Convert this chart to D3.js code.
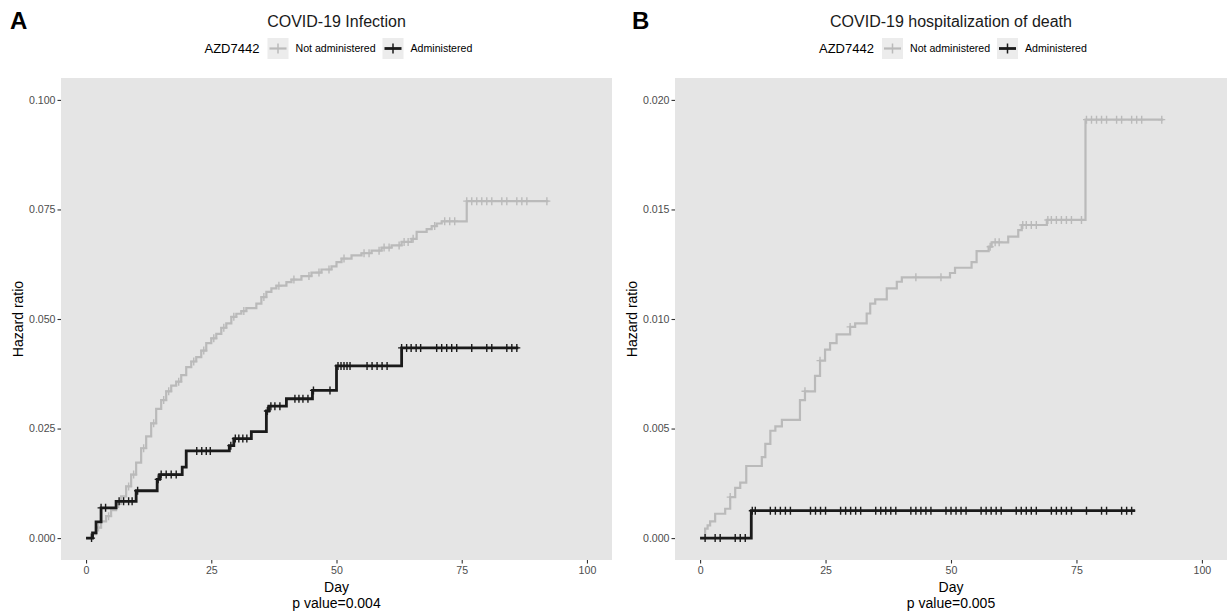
<!DOCTYPE html>
<html>
<head>
<meta charset="utf-8">
<script src="https://cdn.jsdelivr.net/npm/d3@7"></script>
<style>
  html, body { margin: 0; padding: 0; background: #ffffff; }
  svg { display: block; font-family: "Liberation Sans", Arial, sans-serif; }
</style>
</head>
<body>
<svg id="chart" width="1227" height="613"></svg>
<script>
// ---------- DATA ----------
const groupNames = ["Not administered", "Administered"];
const legendTitle = "AZD7442";
const xTicks = [0, 25, 50, 75, 100];

// Panel A: COVID-19 Infection
const infTitle = "COVID-19 Infection";
const infPValue = "p value=0.004";
const infYTicks = [0, 0.025, 0.05, 0.075, 0.1];
const infNotAdmDays = [0, 1, 2, 3, 4, 5, 6, 7, 8, 9, 10, 11, 12, 13, 14, 15, 16, 17, 18, 19, 20, 21, 22, 23, 24, 25, 26, 27, 28, 29, 30, 31, 32, 34, 35, 36, 37, 38, 40, 41, 43, 45, 47, 49, 50, 51, 53, 55, 57, 59, 61, 63, 65, 66, 68, 69, 70, 71, 76];
const infNotAdmVals = [0, 0.0009, 0.0024, 0.0038, 0.0050, 0.0064, 0.0078, 0.0095, 0.0118, 0.0145, 0.0172, 0.0205, 0.0232, 0.0262, 0.0295, 0.0315, 0.0335, 0.0348, 0.0357, 0.0372, 0.0390, 0.0403, 0.0413, 0.0428, 0.0445, 0.0456, 0.0466, 0.0480, 0.0490, 0.0505, 0.0512, 0.0518, 0.0525, 0.0535, 0.0550, 0.0562, 0.0570, 0.0576, 0.0584, 0.0590, 0.0598, 0.0606, 0.0613, 0.0620, 0.0630, 0.0638, 0.0645, 0.0650, 0.0656, 0.0663, 0.0668, 0.0676, 0.0683, 0.0699, 0.0705, 0.0712, 0.0718, 0.0723, 0.0769];
const infNotAdmEnd = 92.3;
const infNotAdmCensor = [2.5, 4.5, 6.5, 8.5, 9.5, 11.5, 13.5, 15.5, 16.5, 18.5, 21.5, 23.5, 25.5, 27.5, 29.5, 31.5, 35.5, 38.5, 41.5, 44.5, 46.5, 48.5, 51.5, 55.5, 56.5, 58.5, 59.5, 60.5, 62.5, 63.5, 64.3, 65.3, 69.6, 71.6, 72.6, 73.6, 76, 77, 78, 79, 80, 81, 83, 84, 86, 87, 88, 92];
const infAdmDays = [0, 1.3, 2, 3, 6, 10, 14.2, 14.7, 19.2, 20, 28.6, 29.5, 33, 36, 36.5, 40, 45.2, 50, 63];
const infAdmVals = [0, 0.0012, 0.0037, 0.0069, 0.0084, 0.0108, 0.0134, 0.0145, 0.0162, 0.0199, 0.0211, 0.0227, 0.0243, 0.0290, 0.0301, 0.0318, 0.0337, 0.0393, 0.0434];
const infAdmEnd = 86.3;
const infAdmCensor = [1.1, 3.0, 3.9, 6.6, 7.5, 8.5, 9.2, 10.3, 14.4, 15.0, 16.0, 17.0, 18.0, 22.1, 23.1, 24.0, 24.8, 28.9, 29.8, 30.5, 31.3, 32.1, 36.2, 36.9, 37.7, 38.7, 41.7, 42.5, 43.3, 44.3, 45.4, 48.7, 50.3, 50.9, 51.5, 52.1, 52.7, 56.1, 57.1, 58.1, 59.1, 60.1, 63.0, 64.0, 64.9, 65.9, 66.8, 70, 71, 72, 73, 74, 77, 80, 81, 84, 85, 86];

// Panel B: COVID-19 hospitalization of death
const hospTitle = "COVID-19 hospitalization of death";
const hospPValue = "p value=0.005";
const hospYTicks = [0, 0.005, 0.01, 0.015, 0.02];
const hospNotAdmDays = [0, 1, 1.5, 2, 3, 5, 6, 7, 8, 9.2, 12.3, 13, 14, 15, 16.3, 19.9, 20.9, 22.9, 23.9, 24.9, 25.9, 27.2, 29.9, 30.9, 33.2, 33.9, 34.9, 37.2, 39.2, 40.2, 49.8, 50.8, 54.1, 55.1, 57.5, 58.1, 61.4, 63.4, 64.1, 69.1, 76.8];
const hospNotAdmVals = [0, 0.00043, 0.00058, 0.00076, 0.00111, 0.00134, 0.00187, 0.00229, 0.00253, 0.00329, 0.0037, 0.0043, 0.0049, 0.0051, 0.0054, 0.0063, 0.0067, 0.0074, 0.0081, 0.0086, 0.0089, 0.0093, 0.00964, 0.0098, 0.01025, 0.0107, 0.0109, 0.0114, 0.0117, 0.0119, 0.0121, 0.01234, 0.0126, 0.0131, 0.0133, 0.0135, 0.01376, 0.01406, 0.01429, 0.01452, 0.0191];
const hospNotAdmEnd = 92.3;
const hospNotAdmCensor = [6, 20.9, 23.9, 29.9, 43, 48, 57.8, 58.8, 59.6, 64.3, 65, 66, 67, 69.3, 70, 71, 72, 73, 74, 76, 77, 78, 79, 80, 81, 83, 84, 86, 87, 88, 92];
const hospAdmDays = [0, 10.2];
const hospAdmVals = [0, 0.00125];
const hospAdmEnd = 86.7;
const hospAdmCensor = [1, 3, 4, 7, 8, 9, 10.4, 11, 14, 15, 16, 17, 18, 22, 23, 24, 25, 28, 29, 30, 31, 32, 35, 36, 37, 38, 39, 42, 43, 44, 45, 46, 49, 50, 51, 52, 53, 56, 57, 58, 59, 60, 63, 64, 65, 66, 67, 70, 71, 72, 73, 74, 77, 80, 81, 84, 85, 86];

// ---------- DRAW ----------
const svg = d3.select("#chart");
const colors = ["#bababa", "#1a1a1a"];
const widths = [2.2, 2.8];

function stepValue(days, vals, t) {
  let v = vals[0];
  for (let i = 0; i < days.length; i++) { if (days[i] <= t) v = vals[i]; }
  return v;
}

function drawPanel(cfg) {
  const g = svg.append("g");
  const x = d3.scaleLinear().domain([-5, 105]).range([cfg.left, cfg.right]);
  const yMax = cfg.yTicks[cfg.yTicks.length - 1];
  const pad = yMax * 0.05;
  const y = d3.scaleLinear().domain([-pad, yMax + pad]).range([560, 78]);

  // panel letter
  g.append("text").attr("x", cfg.letterX).attr("y", 29)
    .attr("font-size", 24).attr("font-weight", "bold").attr("fill", "#000").text(cfg.letter);

  const cx = (cfg.left + cfg.right) / 2;
  // title
  g.append("text").attr("x", cx).attr("y", 27).attr("text-anchor", "middle")
    .attr("font-size", 16).attr("fill", "#1a1a1a").text(cfg.title);

  // legend
  const lg = g.append("g").attr("transform", `translate(${cx},0)`);
  lg.append("text").attr("x", -132).attr("y", 53).attr("font-size", 13).attr("fill", "#000").text(legendTitle);
  const keyX = [-69, 46];
  const labX = [-41, 74];
  [0, 1].forEach(i => {
    lg.append("rect").attr("x", keyX[i]).attr("y", 38).attr("width", 21).attr("height", 21).attr("fill", "#ececec");
    lg.append("line").attr("x1", keyX[i] + 2).attr("x2", keyX[i] + 19).attr("y1", 48.5).attr("y2", 48.5)
      .attr("stroke", colors[i]).attr("stroke-width", widths[i]);
    lg.append("line").attr("x1", keyX[i] + 10.5).attr("x2", keyX[i] + 10.5).attr("y1", 43.5).attr("y2", 53.5)
      .attr("stroke", colors[i]).attr("stroke-width", 1.5);
    lg.append("text").attr("x", labX[i]).attr("y", 52).attr("font-size", 10.6).attr("fill", "#000").text(groupNames[i]);
  });

  // panel background
  g.append("rect").attr("x", cfg.left).attr("y", 78).attr("width", cfg.right - cfg.left).attr("height", 482).attr("fill", "#e5e5e5");

  // axes
  const ya = g.append("g").attr("transform", `translate(${cfg.left},0)`)
    .call(d3.axisLeft(y).tickValues(cfg.yTicks).tickFormat(d3.format(".3f")).tickSize(3.5).tickPadding(2));
  const xa = g.append("g").attr("transform", `translate(0,560)`)
    .call(d3.axisBottom(x).tickValues(xTicks).tickFormat(d3.format("d")).tickSize(3.5).tickPadding(3));
  [ya, xa].forEach(a => {
    a.select(".domain").remove();
    a.selectAll(".tick line").attr("stroke", "#333").attr("stroke-width", 1.1);
    a.selectAll(".tick text").attr("fill", "#4d4d4d").attr("font-size", 10.6).attr("font-family", "Liberation Sans, Arial, sans-serif");
  });

  // axis titles
  g.append("text").attr("transform", `translate(${cfg.left - 38},${(78 + 560) / 2}) rotate(-90)`)
    .attr("text-anchor", "middle").attr("font-size", 14).attr("fill", "#000").text("Hazard ratio");
  g.append("text").attr("x", cx).attr("y", 592).attr("text-anchor", "middle").attr("font-size", 14).attr("fill", "#000").text("Day");
  g.append("text").attr("x", cx).attr("y", 608).attr("text-anchor", "middle").attr("font-size", 14).attr("fill", "#000").text(cfg.pValue);

  // curves
  const line = d3.line().x(d => x(d[0])).y(d => y(d[1])).curve(d3.curveStepAfter);
  cfg.series.forEach((s, i) => {
    const pts = s.days.map((d, k) => [d, s.vals[k]]);
    pts.push([s.end, s.vals[s.vals.length - 1]]);
    g.append("path").datum(pts).attr("d", line).attr("fill", "none")
      .attr("stroke", colors[i]).attr("stroke-width", widths[i]);
    g.append("g").selectAll("path.c").data(s.censor).join("path")
      .attr("d", t => {
        const px = x(t), py = y(stepValue(s.days, s.vals, t));
        return `M${px - 3.5},${py}H${px + 3.5}M${px},${py - 4}V${py + 4}`;
      })
      .attr("stroke", colors[i]).attr("stroke-width", 1.4).attr("fill", "none");
  });
}

drawPanel({
  letter: "A", letterX: 10, left: 61, right: 612,
  title: infTitle, pValue: infPValue, yTicks: infYTicks,
  series: [
    { days: infNotAdmDays, vals: infNotAdmVals, end: infNotAdmEnd, censor: infNotAdmCensor },
    { days: infAdmDays, vals: infAdmVals, end: infAdmEnd, censor: infAdmCensor }
  ]
});
drawPanel({
  letter: "B", letterX: 632, left: 675, right: 1227,
  title: hospTitle, pValue: hospPValue, yTicks: hospYTicks,
  series: [
    { days: hospNotAdmDays, vals: hospNotAdmVals, end: hospNotAdmEnd, censor: hospNotAdmCensor },
    { days: hospAdmDays, vals: hospAdmVals, end: hospAdmEnd, censor: hospAdmCensor }
  ]
});
</script>
</body>
</html>
